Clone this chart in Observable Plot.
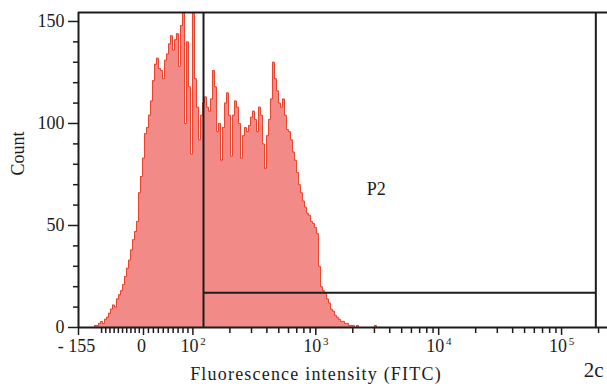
<!DOCTYPE html>
<html><head><meta charset="utf-8">
<script src="https://cdn.jsdelivr.net/npm/d3@7"></script>
<script src="https://cdn.jsdelivr.net/npm/@observablehq/plot@0.6"></script>
<style>body{margin:0;background:#fff} svg{display:block}</style>
</head><body><div id="chart"></div>
<script>
// Histogram counts per display channel
const counts = [0,1,1,2,3,2,4,5,7,9,
  11,10,14,16,18,21,25,29,33,38,
  43,47,52,66,74,83,95,98,104,111,
  121,129,132,127,126,122,131,134,139,143,
  136,141,144,128,148,162,100,140,118,85,
  165,122,108,92,104,110,113,108,106,112,
  126,118,96,100,82,98,110,115,104,84,
  104,111,108,100,83,94,98,96,99,103,
  106,102,96,108,104,90,78,94,102,112,
  130,122,116,110,108,112,104,97,96,92,
  86,82,76,70,66,62,59,56,55,52,
  51,49,46,30,20,18,17,14,12,9,
  8,6,5,4,3,3,2,2,1,1,
  1,0,1,0,0,0,0,0,0,0,
  0,1,0,0,0];
// channel geometry in display units (decades of the biexponential axis)
const channelStart = 1.1831;
const channelWidth = 0.016273;

const xMin = -155, xMax = 262143;
const majorTicks = [-155, 0, 100, 1000, 10000, 100000];
const plainLabels = [{v: -155, t: "- 155"}, {v: 0, t: "0"}];
const powerLabels = [{v: 100, e: "2"}, {v: 1000, e: "3"}, {v: 10000, e: "4"}, {v: 100000, e: "5"}];
const minorTicks = [-100,-90,-80,-70,-60,-50,-40,-30,-20,-10,10,20,30,40,50,60,70,80,90,
  200,300,400,500,600,700,800,900,2000,3000,4000,5000,6000,7000,8000,9000,
  20000,30000,40000,50000,60000,70000,80000,90000,200000];
const yMajor = [0, 50, 100, 150];
const yMinor = [10,20,30,40,60,70,80,90,110,120,130,140];
const yMax = 154.4;

const gateLo = 122, gateHi = 190000, gateLevel = 17;
const gateName = "P2", gateLabelAt = {v: 3100, c: 68};
const xTitle = "Fluorescence intensity (FITC)";

// biexponential-like display transform
const sPos = 0.00402, sNeg = 0.003412, U0 = 2 - 100 * sPos;
function disp(v) {
  if (v >= 100) return Math.log10(v);
  if (v >= 0) return U0 + v * sPos;
  return U0 + v * sNeg;
}

const bins = counts.map((c, i) => ({u: channelStart + i * channelWidth, count: c}));
bins.push({u: channelStart + counts.length * channelWidth, count: 0});

const ink = "#1c1c1c";
const font = "'Liberation Serif', 'Times New Roman', serif";

const chart = Plot.plot({
  width: 607, height: 392,
  marginLeft: 78, marginRight: 0, marginTop: 12, marginBottom: 65,
  style: {fontFamily: font, background: "white", color: ink},
  x: {type: "linear", domain: [disp(xMin), disp(xMax)], range: [78, 612.5], axis: null},
  y: {domain: [0, yMax], axis: null},
  marks: [
    Plot.areaY(bins, {x: "u", y: "count", curve: "step-after", fill: "#f28a88", clip: true}),
    Plot.lineY(bins, {x: "u", y: "count", curve: "step-after", stroke: "#e8432d", strokeWidth: 1, clip: true}),
    // frame
    Plot.ruleY([yMax], {stroke: ink, strokeWidth: 2}),
    Plot.ruleY([0], {stroke: ink, strokeWidth: 2}),
    Plot.ruleX([xMin], {x: disp, y1: 0, y2: yMax, stroke: ink, strokeWidth: 2}),
    // gate
    Plot.ruleX([gateLo, gateHi], {x: disp, y1: 0, y2: yMax, stroke: ink, strokeWidth: 2}),
    Plot.ruleY([gateLevel], {x1: disp(gateLo), x2: disp(gateHi), stroke: ink, strokeWidth: 2}),
    Plot.text([gateName], {x: disp(gateLabelAt.v), y: gateLabelAt.c, fontSize: 18, fill: ink}),
    // y axis
    Plot.axisY(yMajor, {anchor: "left", tickSize: 10, tickPadding: 4, fontSize: 18, strokeWidth: 1.5, label: null}),
    Plot.axisY(yMinor, {anchor: "left", tickSize: 5, tickFormat: () => "", strokeWidth: 1.5, label: null}),
    // x axis
    Plot.axisX(majorTicks.map(disp), {anchor: "bottom", tickSize: 8, tickFormat: () => "", strokeWidth: 1.5, label: null}),
    Plot.axisX(minorTicks.map(disp), {anchor: "bottom", tickSize: 6, tickFormat: () => "", strokeWidth: 1.5, label: null}),
    Plot.text(plainLabels, {x: d => disp(d.v), text: "t", frameAnchor: "bottom", dy: 24, dx: -2, fontSize: 18, fill: ink}),
    Plot.text(powerLabels, {x: d => disp(d.v), text: () => "10", frameAnchor: "bottom", dy: 24, dx: -3.5, fontSize: 18, fill: ink}),
    Plot.text(powerLabels, {x: d => disp(d.v), text: "e", frameAnchor: "bottom", dy: 17.5, dx: 10, fontSize: 11, fill: ink}),
    // titles
    Plot.text([xTitle], {frameAnchor: "bottom", dx: -27, dy: 52, fontSize: 18, fill: ink}),
    Plot.text(["Count"], {frameAnchor: "left", rotate: -90, dx: -60, dy: 5.5, fontSize: 18, fill: ink}),
    Plot.text(["2c"], {frameAnchor: "bottom-right", dx: -4, dy: 49, fontSize: 21, fill: ink})
  ]
});
d3.select(chart).selectAll("text")
  .filter(function() { return this.textContent === xTitle; })
  .attr("letter-spacing", "1.2");
document.getElementById("chart").appendChild(chart);
</script>
</body></html>
